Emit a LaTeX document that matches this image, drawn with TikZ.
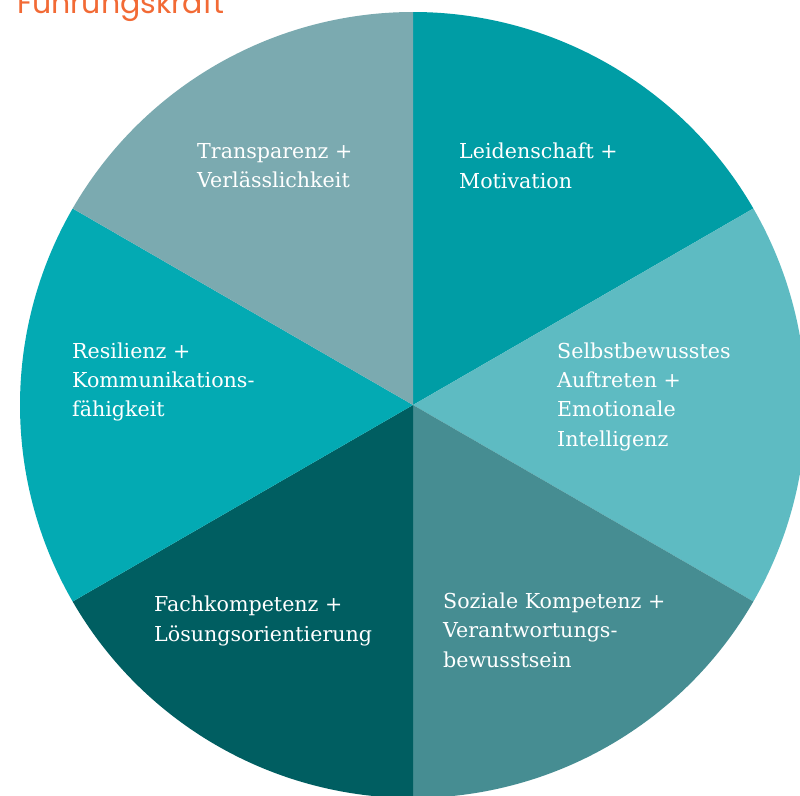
\documentclass[tikz,border=0pt]{standalone}
\usepackage{fontspec}
\setmainfont{DejaVu Serif}
\newfontfamily\titlefont{Poppins}
\definecolor{cTL}{HTML}{7BAAB0}
\definecolor{cTR}{HTML}{009DA5}
\definecolor{cR}{HTML}{5EBBC2}
\definecolor{cBR}{HTML}{468D92}
\definecolor{cBL}{HTML}{005E61}
\definecolor{cL}{HTML}{03AAB3}
\definecolor{cTitle}{HTML}{F26A35}
\tikzset{
  lbl/.style={anchor=base west, inner sep=0pt, align=left, text=white,
    font=\fontsize{20.6}{29.3}\selectfont},
}
\begin{document}
\begin{tikzpicture}[x=1pt,y=-1pt]
\useasboundingbox (0,0) rectangle (800,795);
\clip (0,0) rectangle (800,795);
\fill[white] (0,0) rectangle (800,795);
\coordinate (c) at (413,405);
\def\R{393}
\fill[cTR] (c) -- ++(-90:\R) arc[start angle=-90, end angle=-30, radius=\R] -- cycle;
\fill[cR]  (c) -- ++(-30:\R) arc[start angle=-30, end angle=30, radius=\R] -- cycle;
\fill[cBR] (c) -- ++(30:\R) arc[start angle=30, end angle=90, radius=\R] -- cycle;
\fill[cBL] (c) -- ++(90:\R) arc[start angle=90, end angle=150, radius=\R] -- cycle;
\fill[cL]  (c) -- ++(150:\R) arc[start angle=150, end angle=210, radius=\R] -- cycle;
\fill[cTL] (c) -- ++(210:\R) arc[start angle=210, end angle=270, radius=\R] -- cycle;
\node[anchor=base west, inner sep=0pt, text=cTitle, font=\titlefont\fontsize{30}{33}\selectfont] (title) at (17,13) {Führungskraft};
\node[lbl] (tl) at (197,187.5) {Transparenz +\\Verlässlichkeit};
\node[lbl] (tr) at (459,188) {Leidenschaft +\\Motivation};
\node[lbl] (r) at (557,446) {Selbstbewusstes\\Auftreten +\\Emotionale\\Intelligenz};
\node[lbl] (l) at (72,416.6) {Resilienz +\\Kommunikations-\\fähigkeit};
\node[lbl] (bl) at (154,641) {Fachkompetenz +\\Lösungsorientierung};
\node[lbl] (br) at (443,667) {Soziale Kompetenz +\\Verantwortungs-\\bewusstsein};
\end{tikzpicture}
\end{document}
